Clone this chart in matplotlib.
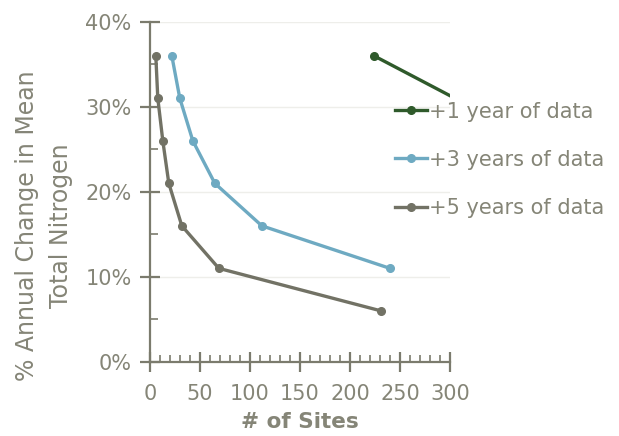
import numpy as np
import matplotlib.pyplot as plt
from matplotlib.ticker import MultipleLocator, PercentFormatter

# values
sites_1yr = [224, 305, 400]
pct_1yr = [36, 31, 26]
sites_3yr = [22, 30, 43, 65, 112, 240]
pct_3yr = [36, 31, 26, 21, 16, 11]
sites_5yr = [6, 8, 13, 19, 32, 69, 231]
pct_5yr = [36, 31, 26, 21, 16, 11, 6]

labels = ['+1 year of data', '+3 years of data', '+5 years of data']
colors = ['#2f5a2b', '#6eaac2', '#727265']
axis_col = '#7b7b6d'
text_col = '#858577'

plt.rcParams['font.family'] = ['DejaVu Sans']

fig = plt.figure(figsize=(6.19, 4.36), dpi=100)
ax = fig.add_axes([0.242, 0.170, 0.485, 0.78])

for xs, ys, c, lab in zip([sites_1yr, sites_3yr, sites_5yr],
                          [pct_1yr, pct_3yr, pct_5yr], colors, labels):
    ax.plot(xs, ys, color=c, lw=2.4, marker='o', ms=5.5, label=lab)

ax.set_xlim(0, 300)
ax.set_ylim(0, 40)
ax.xaxis.set_major_locator(MultipleLocator(50))
ax.xaxis.set_minor_locator(MultipleLocator(10))
ax.yaxis.set_major_locator(MultipleLocator(10))
ax.yaxis.set_minor_locator(MultipleLocator(5))
ax.yaxis.set_major_formatter(PercentFormatter(decimals=0))

for s in ['top', 'right']:
    ax.spines[s].set_visible(False)
for s in ['left', 'bottom']:
    ax.spines[s].set_color(axis_col)
    ax.spines[s].set_linewidth(1.6)

ax.tick_params(which='major', direction='inout', length=14, width=1.6,
               color=axis_col, labelcolor=text_col, labelsize=15, pad=6)
ax.tick_params(axis='x', which='major', pad=9)
ax.tick_params(which='minor', direction='in', length=6, width=1.2, color=axis_col)
ax.tick_params(axis='x', which='minor', length=5)
ax.grid(axis='y', which='major', color='#eeeeea', lw=1)
ax.set_axisbelow(True)

ax.set_xlabel('# of Sites', fontsize=15.5, fontweight='bold', color=text_col, labelpad=6)
ax.set_ylabel('% Annual Change in Mean\nTotal Nitrogen', fontsize=17,
              color=text_col, linespacing=1.55)
ax.yaxis.set_label_coords(-0.255, 0.40)

leg = ax.legend(loc='upper left', bbox_to_anchor=(0.79, 0.79), frameon=False,
                fontsize=15, handlelength=1.5, handletextpad=0.1,
                labelspacing=1.35, borderaxespad=0)
for t in leg.get_texts():
    t.set_color(text_col)

fig.savefig('out.png', dpi=100)
